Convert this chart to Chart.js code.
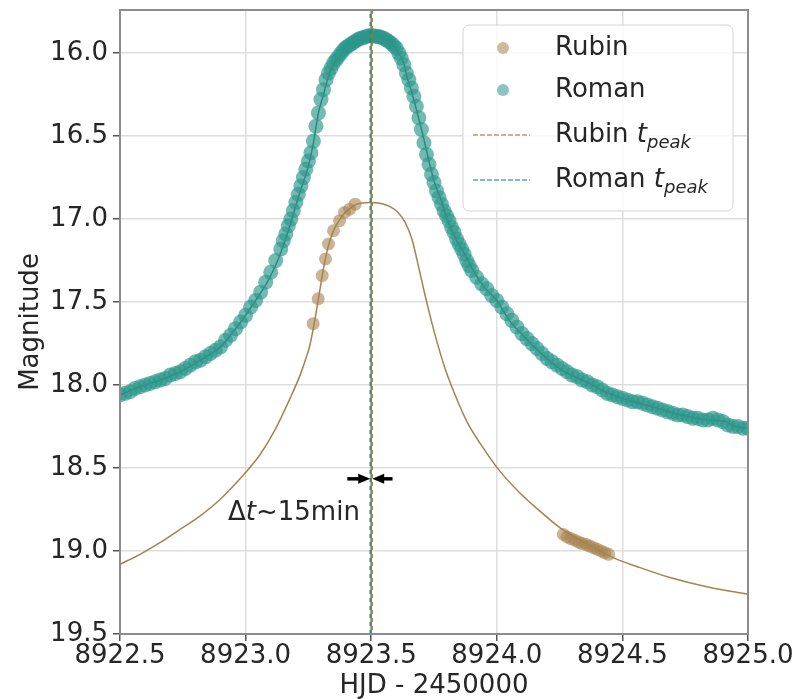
<!DOCTYPE html>
<html>
<head>
<meta charset="utf-8">
<script src="https://cdn.jsdelivr.net/npm/chart.js@4.4.0/dist/chart.umd.min.js"></script>
<style>
body { margin: 0; background: #fff; }
</style>
</head>
<body>
<canvas id="myChart" width="800" height="699"></canvas>
<script>
// axis setup
var xTicks = [8922.5, 8923.0, 8923.5, 8924.0, 8924.5, 8925.0];
var yTicks = [16.0, 16.5, 17.0, 17.5, 18.0, 18.5, 19.0, 19.5];
var xRange = [8922.5, 8925.0];
var yRange = [15.74, 19.5];

// Roman photometry (HJD - 2450000, mag)
var romanTime = [
  8922.50, 8922.52, 8922.54, 8922.56, 8922.58, 8922.60, 8922.62, 8922.64, 8922.66, 8922.68,
  8922.70, 8922.72, 8922.74, 8922.76, 8922.78, 8922.80, 8922.82, 8922.84, 8922.86, 8922.88,
  8922.90, 8922.92, 8922.94, 8922.96, 8922.98, 8923.00, 8923.02, 8923.04, 8923.06, 8923.08,
  8923.10, 8923.12, 8923.14,
  8923.15, 8923.16, 8923.17, 8923.18, 8923.19, 8923.20, 8923.21, 8923.22, 8923.23, 8923.24,
  8923.25, 8923.26, 8923.27, 8923.28, 8923.29, 8923.30, 8923.31, 8923.32, 8923.33, 8923.34,
  8923.35, 8923.36, 8923.37, 8923.38, 8923.39, 8923.40, 8923.41, 8923.42, 8923.43, 8923.44,
  8923.45, 8923.46, 8923.47, 8923.48, 8923.49, 8923.50, 8923.51, 8923.52, 8923.53, 8923.54,
  8923.55, 8923.56, 8923.57, 8923.58, 8923.59, 8923.60, 8923.61, 8923.62, 8923.63, 8923.64,
  8923.65, 8923.66, 8923.67, 8923.68, 8923.69, 8923.70, 8923.71, 8923.72, 8923.73, 8923.74,
  8923.75, 8923.76, 8923.77, 8923.78, 8923.79, 8923.80, 8923.81, 8923.82, 8923.83, 8923.84,
  8923.85, 8923.86, 8923.87, 8923.88, 8923.89, 8923.90,
  8923.92, 8923.94, 8923.96, 8923.98, 8924.00, 8924.02, 8924.04, 8924.06, 8924.08, 8924.10,
  8924.12, 8924.14, 8924.16, 8924.18, 8924.20, 8924.22, 8924.24, 8924.26, 8924.28, 8924.30,
  8924.32, 8924.34, 8924.36, 8924.38, 8924.40, 8924.42, 8924.44, 8924.46, 8924.48, 8924.50,
  8924.52, 8924.54, 8924.56, 8924.58, 8924.60, 8924.62, 8924.64, 8924.66, 8924.68, 8924.70,
  8924.72, 8924.74, 8924.76, 8924.78, 8924.80, 8924.82, 8924.84, 8924.86, 8924.88, 8924.90,
  8924.92, 8924.94, 8924.96, 8924.98, 8925.00
];
var romanMag = [
  18.06, 18.05, 18.04, 18.02, 18.01, 18.00, 17.99, 17.98, 17.97, 17.96,
  17.94, 17.93, 17.92, 17.90, 17.88, 17.86, 17.85, 17.83, 17.81, 17.79,
  17.77, 17.73, 17.70, 17.66, 17.62, 17.58, 17.53, 17.49, 17.44, 17.38,
  17.32, 17.25, 17.18,
  17.13, 17.09, 17.04, 17.00, 16.95, 16.90, 16.85, 16.80, 16.75, 16.70,
  16.65, 16.60, 16.53, 16.44, 16.36, 16.28, 16.22, 16.16, 16.12, 16.09,
  16.06, 16.04, 16.02, 16.00, 15.98, 15.965, 15.955, 15.945, 15.935, 15.925,
  15.915, 15.91, 15.905, 15.90, 15.895, 15.895, 15.895, 15.90, 15.90, 15.905,
  15.91, 15.92, 15.93, 15.94, 15.955, 15.97, 16.00, 16.03, 16.07, 16.12,
  16.16, 16.21, 16.26, 16.32, 16.39, 16.46, 16.54, 16.61, 16.67, 16.73,
  16.78, 16.83, 16.87, 16.91, 16.95, 16.98, 17.01, 17.05, 17.08, 17.12,
  17.15, 17.18, 17.21, 17.25, 17.28, 17.31,
  17.35, 17.39, 17.42, 17.46, 17.49, 17.53, 17.57, 17.61, 17.65, 17.69,
  17.72, 17.75, 17.78, 17.81, 17.84, 17.86, 17.88, 17.90, 17.92, 17.94,
  17.95, 17.97, 17.98, 18.00, 18.01, 18.03, 18.05, 18.06, 18.07, 18.08,
  18.09, 18.10, 18.10, 18.11, 18.12, 18.13, 18.14, 18.15, 18.16, 18.17,
  18.18, 18.18, 18.19, 18.20, 18.20, 18.21, 18.21, 18.20, 18.21, 18.22,
  18.24, 18.25, 18.25, 18.26, 18.26
];

// Rubin photometry
var rubinTime = [8923.269, 8923.289, 8923.305, 8923.318, 8923.330, 8923.350, 8923.374, 8923.394, 8923.414, 8923.436,
  8924.265, 8924.280, 8924.295, 8924.310, 8924.325, 8924.340, 8924.355, 8924.370, 8924.385, 8924.400, 8924.415, 8924.430, 8924.445];
var rubinMag = [17.63, 17.48, 17.34, 17.24, 17.15, 17.07, 17.01, 16.96, 16.94, 16.91,
  18.90, 18.915, 18.925, 18.935, 18.945, 18.955, 18.96, 18.97, 18.98, 18.99, 19.00, 19.01, 19.02];

// model curves
var romanModelTime = [8922.50, 8922.58, 8922.66, 8922.74, 8922.82, 8922.90, 8922.95, 8923.00, 8923.04, 8923.09,
  8923.13, 8923.17, 8923.20, 8923.22, 8923.25, 8923.27, 8923.29, 8923.31, 8923.33, 8923.35,
  8923.38, 8923.40, 8923.43, 8923.46, 8923.50, 8923.54, 8923.58, 8923.60, 8923.63, 8923.64,
  8923.66, 8923.68, 8923.71, 8923.73, 8923.75, 8923.78, 8923.80, 8923.84, 8923.88, 8923.91,
  8923.95, 8924.00, 8924.05, 8924.11, 8924.17, 8924.24, 8924.31, 8924.37, 8924.43, 8924.50,
  8924.57, 8924.64, 8924.73, 8924.84, 8924.91, 8924.95, 8925.00];
var romanModelMag = [18.06, 18.01, 17.97, 17.92, 17.85, 17.77, 17.68, 17.58, 17.49, 17.37,
  17.24, 17.07, 16.92, 16.82, 16.68, 16.54, 16.36, 16.25, 16.14, 16.07,
  16.01, 15.96, 15.935, 15.91, 15.895, 15.905, 15.935, 15.98, 16.06, 16.13,
  16.23, 16.34, 16.52, 16.65, 16.77, 16.89, 16.99, 17.13, 17.23, 17.32,
  17.41, 17.49, 17.61, 17.71, 17.80, 17.89, 17.95, 17.99, 18.04, 18.08,
  18.11, 18.14, 18.18, 18.21, 18.22, 18.25, 18.26];

var rubinModelTime = [8922.500, 8922.580, 8922.659, 8922.739, 8922.818, 8922.898, 8922.998, 8923.057, 8923.117, 8923.177,
  8923.217, 8923.240, 8923.256, 8923.268, 8923.280, 8923.292, 8923.304, 8923.316, 8923.328, 8923.340,
  8923.356, 8923.376, 8923.396, 8923.416, 8923.443, 8923.495, 8923.535, 8923.575, 8923.607, 8923.635,
  8923.662, 8923.686, 8923.710, 8923.734, 8923.762, 8923.794, 8923.834, 8923.881, 8923.933, 8924.013,
  8924.092, 8924.172, 8924.252, 8924.351, 8924.463, 8924.570, 8924.689, 8924.849, 8925.000];
var rubinModelMag = [19.08, 19.02, 18.95, 18.87, 18.79, 18.69, 18.53, 18.42, 18.27, 18.08,
  17.94, 17.84, 17.76, 17.67, 17.57, 17.46, 17.35, 17.25, 17.17, 17.11,
  17.05, 17.00, 16.96, 16.935, 16.91, 16.90, 16.905, 16.925, 16.96, 17.02,
  17.12, 17.27, 17.43, 17.58, 17.74, 17.90, 18.06, 18.22, 18.35, 18.52,
  18.65, 18.76, 18.86, 18.95, 19.04, 19.10, 19.16, 19.22, 19.26];

// peak times [Rubin, Roman] and the delta-t arrow
var tPeak = [8923.502, 8923.498];
var arrowMag = 18.565;
var arrowSpan = [8923.405, 8923.585];
var noteText = ["\u0394", "t", "~15min"];
var notePos = [8923.455, 18.77];

var FONT = "'DejaVu Sans', 'Liberation Sans', sans-serif";
var TXT = '#262626';
var rubinCol = 'rgb(166,130,78)';
var rubinFill = 'rgba(166,130,78,0.6)';
var romanFill = 'rgba(42,150,138,0.66)';
var romanLine = 'rgb(28,118,108)';

function pts(t, m){
    var out = [];
    for (var i = 0; i < t.length; i++) out.push({x: t[i], y: m[i]});
    return out;
}

var extras = {
    id: 'extras',
    afterDraw: function(chart){
        var ctx = chart.ctx, a = chart.chartArea;
        var xs = chart.scales.x, ys = chart.scales.y;
        ctx.save();
        // frame
        ctx.strokeStyle = '#8c8c8c';
        ctx.lineWidth = 2;
        ctx.strokeRect(a.left, a.top, a.right - a.left, a.bottom - a.top);

        // arrows
        var ay = ys.getPixelForValue(arrowMag);
        var xl = xs.getPixelForValue(arrowSpan[0]);
        var xr = xs.getPixelForValue(arrowSpan[1]);
        var xm = xs.getPixelForValue((tPeak[0] + tPeak[1]) / 2);
        ctx.fillStyle = '#000'; ctx.strokeStyle = '#000'; ctx.lineWidth = 3.5;
        [[xl, xm - 1], [xr, xm + 1]].forEach(function(s){
            var d = Math.sign(s[1] - s[0]);
            ctx.beginPath(); ctx.moveTo(s[0], ay); ctx.lineTo(s[1] - d * 8, ay); ctx.stroke();
            ctx.beginPath(); ctx.moveTo(s[1], ay); ctx.lineTo(s[1] - d * 12, ay - 5);
            ctx.lineTo(s[1] - d * 12, ay + 5); ctx.closePath(); ctx.fill();
        });

        // delta-t note
        ctx.fillStyle = TXT;
        ctx.textBaseline = 'middle';
        ctx.textAlign = 'left';
        var up = '26px ' + FONT, it = 'italic 26px ' + FONT;
        ctx.font = up; var w0 = ctx.measureText(noteText[0]).width, w2 = ctx.measureText(noteText[2]).width;
        ctx.font = it; var w1 = ctx.measureText(noteText[1]).width;
        var nx = xs.getPixelForValue(notePos[0]) - (w0 + w1 + w2);
        var ny = ys.getPixelForValue(notePos[1]);
        ctx.font = up; ctx.fillText(noteText[0], nx, ny);
        ctx.font = it; ctx.fillText(noteText[1], nx + w0, ny);
        ctx.font = up; ctx.fillText(noteText[2], nx + w0 + w1, ny);

        // legend
        var lx = a.right - 285, ly = a.top + 15, lw = 270, lh = 186;
        ctx.beginPath();
        ctx.roundRect(lx, ly, lw, lh, 6);
        ctx.fillStyle = 'rgba(255,255,255,0.8)';
        ctx.fill();
        ctx.strokeStyle = '#d4d4d4'; ctx.lineWidth = 1;
        ctx.stroke();

        var rows = [ly + 23, ly + 65, ly + 110, ly + 155];
        var mx = lx + 40, tx = lx + 92;
        ctx.fillStyle = 'rgba(166,130,78,0.55)';
        ctx.beginPath(); ctx.arc(mx, rows[0], 6, 0, Math.PI * 2); ctx.fill();
        ctx.fillStyle = 'rgba(42,150,138,0.55)';
        ctx.beginPath(); ctx.arc(mx, rows[1], 6, 0, Math.PI * 2); ctx.fill();
        ctx.lineWidth = 2; ctx.setLineDash([5, 2]);
        ctx.strokeStyle = 'rgba(166,130,78,0.6)';
        ctx.beginPath(); ctx.moveTo(lx + 10, rows[2]); ctx.lineTo(lx + 67, rows[2]); ctx.stroke();
        ctx.strokeStyle = 'rgba(42,150,138,0.6)';
        ctx.beginPath(); ctx.moveTo(lx + 10, rows[3]); ctx.lineTo(lx + 67, rows[3]); ctx.stroke();
        ctx.setLineDash([]);

        ctx.fillStyle = TXT;
        ctx.font = up;
        ctx.fillText('Rubin', tx, rows[0]);
        ctx.fillText('Roman', tx, rows[1]);
        ['Rubin ', 'Roman '].forEach(function(name, k){
            var y = rows[2 + k];
            ctx.font = up; ctx.fillText(name, tx, y);
            var x = tx + ctx.measureText(name).width;
            ctx.font = it; ctx.fillText('t', x, y);
            x += ctx.measureText('t').width;
            ctx.font = 'italic 18px ' + FONT; ctx.fillText('peak', x, y + 8);
        });
        ctx.restore();
    }
};

var ctx = document.getElementById('myChart');
var myChart = new Chart(ctx, {
    type: 'scatter',
    data: {
        datasets: [
            { label: 'Rubin tpeak', data: [{x: tPeak[0], y: yRange[0]}, {x: tPeak[0], y: yRange[1]}],
              showLine: true, pointRadius: 0, borderColor: 'rgba(150,118,62,0.9)', borderWidth: 2.5,
              borderDash: [4, 4], order: 0 },
            { label: 'Roman tpeak', data: [{x: tPeak[1], y: yRange[0]}, {x: tPeak[1], y: yRange[1]}],
              showLine: true, pointRadius: 0, borderColor: 'rgba(36,140,120,0.9)', borderWidth: 2.5,
              borderDash: [4, 4], borderDashOffset: 4, order: 0 },
            { label: 'Rubin', data: pts(rubinTime, rubinMag), pointRadius: 6.5, pointBackgroundColor: rubinFill,
              pointBorderWidth: 0, order: 1 },
            { label: 'Rubin model', data: pts(rubinModelTime, rubinModelMag), showLine: true,
              pointRadius: 0, borderColor: rubinCol, borderWidth: 1.5, cubicInterpolationMode: 'monotone', order: 2 },
            { label: 'Roman', data: pts(romanTime, romanMag), pointRadius: 7.5, pointBackgroundColor: romanFill,
              pointBorderWidth: 0, order: 3 },
            { label: 'Roman model', data: pts(romanModelTime, romanModelMag), showLine: true,
              pointRadius: 0, borderColor: romanLine, borderWidth: 1.5, cubicInterpolationMode: 'monotone', order: 4 }
        ]
    },
    options: {
        responsive: false,
        animation: false,
        events: [],
        layout: { padding: { top: 10, right: 52, left: 0, bottom: 0 } },
        plugins: { legend: { display: false }, tooltip: { enabled: false } },
        scales: {
            x: {
                type: 'linear', min: xRange[0], max: xRange[1],
                afterBuildTicks: function(s){ s.ticks = xTicks.map(function(v){ return {value: v}; }); },
                afterFit: function(s){ s.height = 65; s.paddingLeft = 0; s.paddingRight = 0; },
                ticks: { font: { family: FONT, size: 26 }, color: TXT, padding: 0, maxRotation: 0, autoSkip: false,
                         callback: function(v){ return v.toFixed(1); } },
                grid: { color: '#dedede', lineWidth: 1.5, tickLength: 7, tickColor: '#555' },
                border: { color: '#8c8c8c', width: 2 },
                title: { display: true, text: 'HJD - 2450000', color: TXT,
                         font: { family: FONT, size: 26, lineHeight: 1 }, padding: 0 }
            },
            y: {
                type: 'linear', reverse: true, min: yRange[0], max: yRange[1],
                afterBuildTicks: function(s){ s.ticks = yTicks.map(function(v){ return {value: v}; }); },
                afterFit: function(s){ s.width = 120; s.paddingTop = 0; s.paddingBottom = 0; },
                ticks: { font: { family: FONT, size: 26 }, color: TXT, padding: 5, autoSkip: false,
                         callback: function(v){ return v.toFixed(1); } },
                grid: { color: '#dedede', lineWidth: 1.5, tickLength: 7, tickColor: '#555' },
                border: { color: '#8c8c8c', width: 2 },
                title: { display: true, text: 'Magnitude', color: TXT,
                         font: { family: FONT, size: 26, lineHeight: 1.2 }, padding: { top: 16, bottom: 0 } }
            }
        }
    },
    plugins: [extras]
});
</script>
</body>
</html>
